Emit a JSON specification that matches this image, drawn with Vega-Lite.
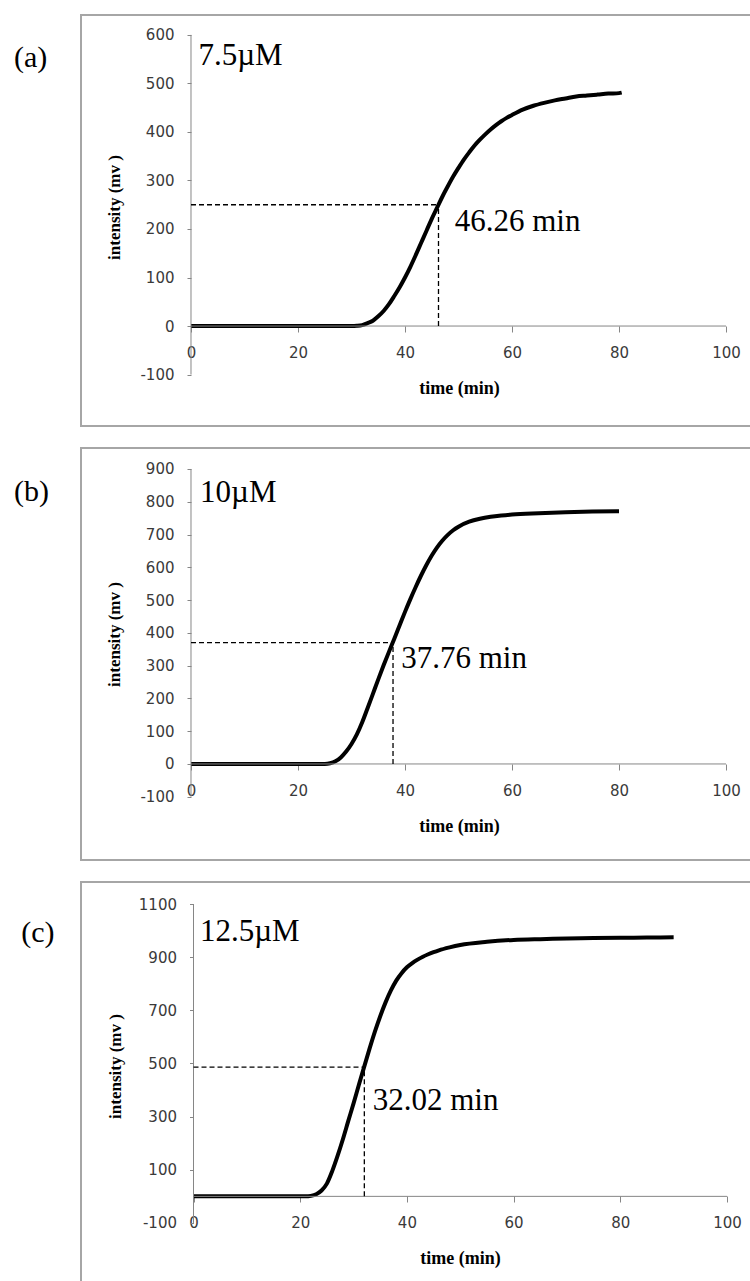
{
  "$schema": "https://vega.github.io/schema/vega-lite/v6.json",
  "padding": {"left": 12, "top": 14, "right": 0, "bottom": 0},
  "spacing": 20,
  "background": "white",
  "config": {
    "view": {"stroke": "#a6a6a6", "strokeWidth": 2},
    "axis": {
      "domain": false, "grid": false, "tickColor": "#868686", "tickWidth": 1,
      "labelFont": "DejaVu Sans", "labelFontSize": 15, "labelColor": "#3a3a3a",
      "labelFlush": false, "labelOverlap": false, "labelExpr": "'' + datum.value",
      "titleFont": "Liberation Serif", "titleFontWeight": "bold", "titleColor": "black"
    }
  },
  "datasets": {
    "one": [{}],
    "a": [
      {"t": 0, "v": 0}, {"t": 5, "v": 0}, {"t": 10, "v": 0}, {"t": 15, "v": 0}, {"t": 20, "v": 0}, {"t": 25, "v": 0}, {"t": 30, "v": 0},
      {"t": 31, "v": 0.5}, {"t": 32, "v": 2}, {"t": 33, "v": 6}, {"t": 34, "v": 11}, {"t": 35, "v": 20}, {"t": 36, "v": 31},
      {"t": 37, "v": 45}, {"t": 38, "v": 62}, {"t": 39, "v": 80}, {"t": 40, "v": 100}, {"t": 41, "v": 122}, {"t": 42, "v": 146},
      {"t": 43, "v": 171}, {"t": 44, "v": 196}, {"t": 45, "v": 221}, {"t": 46, "v": 244}, {"t": 47, "v": 267}, {"t": 48, "v": 288},
      {"t": 49, "v": 308}, {"t": 50, "v": 326}, {"t": 51, "v": 343}, {"t": 52, "v": 358}, {"t": 53, "v": 372}, {"t": 54, "v": 384},
      {"t": 55, "v": 395}, {"t": 56, "v": 405}, {"t": 57, "v": 414}, {"t": 58, "v": 422}, {"t": 59, "v": 429}, {"t": 60, "v": 435},
      {"t": 62, "v": 446}, {"t": 64, "v": 454}, {"t": 66, "v": 460}, {"t": 68, "v": 465}, {"t": 70, "v": 469}, {"t": 72, "v": 473},
      {"t": 74, "v": 475}, {"t": 76, "v": 477}, {"t": 78, "v": 479}, {"t": 80, "v": 480}, {"t": 80.5, "v": 481}
    ],
    "b": [
      {"t": 0, "v": 0}, {"t": 5, "v": 0}, {"t": 10, "v": 0}, {"t": 15, "v": 0}, {"t": 20, "v": 0}, {"t": 25, "v": 0},
      {"t": 26, "v": 2}, {"t": 27, "v": 8}, {"t": 28, "v": 20}, {"t": 29, "v": 38}, {"t": 30, "v": 61}, {"t": 31, "v": 90},
      {"t": 32, "v": 127}, {"t": 33, "v": 170}, {"t": 34, "v": 214}, {"t": 35, "v": 258}, {"t": 36, "v": 301}, {"t": 37, "v": 342},
      {"t": 38, "v": 382}, {"t": 39, "v": 423}, {"t": 40, "v": 464}, {"t": 41, "v": 503}, {"t": 42, "v": 540}, {"t": 43, "v": 575},
      {"t": 44, "v": 607}, {"t": 45, "v": 636}, {"t": 46, "v": 661}, {"t": 47, "v": 682}, {"t": 48, "v": 699}, {"t": 49, "v": 713},
      {"t": 50, "v": 724}, {"t": 52, "v": 739}, {"t": 54, "v": 748}, {"t": 56, "v": 754}, {"t": 58, "v": 758}, {"t": 60, "v": 761},
      {"t": 65, "v": 765}, {"t": 70, "v": 768}, {"t": 75, "v": 770}, {"t": 80, "v": 771}
    ],
    "c": [
      {"t": 0, "v": 0}, {"t": 5, "v": 0}, {"t": 10, "v": 0}, {"t": 15, "v": 0}, {"t": 20, "v": 0}, {"t": 21, "v": 0},
      {"t": 22, "v": 2}, {"t": 23, "v": 8}, {"t": 24, "v": 22}, {"t": 25, "v": 48}, {"t": 26, "v": 95}, {"t": 27, "v": 152},
      {"t": 28, "v": 215}, {"t": 29, "v": 283}, {"t": 30, "v": 350}, {"t": 31, "v": 420}, {"t": 32, "v": 488}, {"t": 33, "v": 556},
      {"t": 34, "v": 620}, {"t": 35, "v": 678}, {"t": 36, "v": 730}, {"t": 37, "v": 775}, {"t": 38, "v": 812}, {"t": 39, "v": 840},
      {"t": 40, "v": 862}, {"t": 41, "v": 878}, {"t": 42, "v": 891}, {"t": 43, "v": 902}, {"t": 44, "v": 911}, {"t": 45, "v": 919},
      {"t": 46, "v": 926}, {"t": 48, "v": 937}, {"t": 50, "v": 946}, {"t": 55, "v": 958}, {"t": 60, "v": 965}, {"t": 65, "v": 968},
      {"t": 70, "v": 970}, {"t": 75, "v": 972}, {"t": 80, "v": 973}, {"t": 85, "v": 974}, {"t": 90, "v": 975}
    ]
  },
  "vconcat": [
    {
      "width": 670, "height": 411,
      "layer": [
        {
          "data": {"name": "a"},
          "mark": {"type": "line", "color": "black", "strokeWidth": 4, "interpolate": "monotone"},
          "encoding": {
            "x": {"field": "t", "type": "quantitative", "title": "time (min)",
                  "scale": {"domain": [-20.56, 104.67], "nice": false, "zero": false},
                  "axis": {"orient": "bottom", "offset": -100, "values": [0, 20, 40, 60, 80, 100], "tickSize": 6, "labelPadding": 13, "titlePadding": 19, "titleFontSize": 18, "titleX": 378}},
            "y": {"field": "v", "type": "quantitative", "title": "intensity (mv )",
                  "scale": {"domain": [-206, 641], "nice": false, "zero": false},
                  "axis": {"orient": "left", "offset": -110, "values": [-100, 0, 100, 200, 300, 400, 500, 600], "tickSize": 4, "labelPadding": 13, "titlePadding": 16, "titleFontSize": 17, "titleY": 192}}
          }
        },
        {"data": {"name": "one"}, "mark": {"type": "rule", "color": "#868686", "strokeWidth": 1}, "encoding": {"x": {"datum": 0, "type": "quantitative"}, "y": {"datum": -100, "type": "quantitative"}, "y2": {"datum": 600}}},
        {"data": {"name": "one"}, "mark": {"type": "rule", "color": "#868686", "strokeWidth": 1}, "encoding": {"x": {"datum": 0, "type": "quantitative"}, "x2": {"datum": 100}, "y": {"datum": 0, "type": "quantitative"}}},
        {"data": {"name": "one"}, "mark": {"type": "rule", "color": "black", "strokeWidth": 1.3, "strokeDash": [5, 3]}, "encoding": {"x": {"datum": 0, "type": "quantitative"}, "x2": {"datum": 46.26}, "y": {"datum": 250, "type": "quantitative"}}},
        {"data": {"name": "one"}, "mark": {"type": "rule", "color": "black", "strokeWidth": 1.3, "strokeDash": [5, 3]}, "encoding": {"x": {"datum": 46.26, "type": "quantitative"}, "y": {"datum": 0, "type": "quantitative"}, "y2": {"datum": 250}}},
        {"data": {"name": "one"}, "mark": {"type": "text", "align": "left", "baseline": "middle", "font": "Liberation Serif", "fontSize": 31, "color": "black"}, "encoding": {"x": {"datum": 49.3, "type": "quantitative"}, "y": {"datum": 214, "type": "quantitative"}, "text": {"value": "46.26 min"}}},
        {"data": {"name": "one"}, "mark": {"type": "text", "align": "left", "baseline": "middle", "font": "Liberation Serif", "fontSize": 31, "color": "black"}, "encoding": {"x": {"datum": 1.4, "type": "quantitative"}, "y": {"datum": 557, "type": "quantitative"}, "text": {"value": "7.5µM"}}},
        {"data": {"name": "one"}, "mark": {"type": "text", "align": "left", "baseline": "middle", "font": "Liberation Serif", "fontSize": 30, "color": "black"}, "encoding": {"x": {"datum": -33.1, "type": "quantitative"}, "y": {"datum": 553, "type": "quantitative"}, "text": {"value": "(a)"}}}
      ]
    },
    {
      "width": 670, "height": 412,
      "layer": [
        {
          "data": {"name": "b"},
          "mark": {"type": "line", "color": "black", "strokeWidth": 4, "interpolate": "monotone"},
          "encoding": {
            "x": {"field": "t", "type": "quantitative", "title": "time (min)",
                  "scale": {"domain": [-20.56, 104.67], "nice": false, "zero": false},
                  "axis": {"orient": "bottom", "offset": -96, "values": [0, 20, 40, 60, 80, 100], "tickSize": 6, "labelPadding": 13, "titlePadding": 19, "titleFontSize": 18, "titleX": 378}},
            "y": {"field": "v", "type": "quantitative", "title": "intensity (mv )",
                  "scale": {"domain": [-293, 964], "nice": false, "zero": false},
                  "axis": {"orient": "left", "offset": -110, "values": [-100, 0, 100, 200, 300, 400, 500, 600, 700, 800, 900], "tickSize": 4, "labelPadding": 13, "titlePadding": 16, "titleFontSize": 17, "titleY": 186}}
          }
        },
        {"data": {"name": "one"}, "mark": {"type": "rule", "color": "#868686", "strokeWidth": 1}, "encoding": {"x": {"datum": 0, "type": "quantitative"}, "y": {"datum": -100, "type": "quantitative"}, "y2": {"datum": 900}}},
        {"data": {"name": "one"}, "mark": {"type": "rule", "color": "#868686", "strokeWidth": 1}, "encoding": {"x": {"datum": 0, "type": "quantitative"}, "x2": {"datum": 100}, "y": {"datum": 0, "type": "quantitative"}}},
        {"data": {"name": "one"}, "mark": {"type": "rule", "color": "black", "strokeWidth": 1.3, "strokeDash": [5, 3]}, "encoding": {"x": {"datum": 0, "type": "quantitative"}, "x2": {"datum": 37.76}, "y": {"datum": 370, "type": "quantitative"}}},
        {"data": {"name": "one"}, "mark": {"type": "rule", "color": "black", "strokeWidth": 1.3, "strokeDash": [5, 3]}, "encoding": {"x": {"datum": 37.76, "type": "quantitative"}, "y": {"datum": 0, "type": "quantitative"}, "y2": {"datum": 370}}},
        {"data": {"name": "one"}, "mark": {"type": "text", "align": "left", "baseline": "middle", "font": "Liberation Serif", "fontSize": 31, "color": "black"}, "encoding": {"x": {"datum": 39.3, "type": "quantitative"}, "y": {"datum": 319, "type": "quantitative"}, "text": {"value": "37.76 min"}}},
        {"data": {"name": "one"}, "mark": {"type": "text", "align": "left", "baseline": "middle", "font": "Liberation Serif", "fontSize": 31, "color": "black"}, "encoding": {"x": {"datum": 1.7, "type": "quantitative"}, "y": {"datum": 827, "type": "quantitative"}, "text": {"value": "10µM"}}},
        {"data": {"name": "one"}, "mark": {"type": "text", "align": "left", "baseline": "middle", "font": "Liberation Serif", "fontSize": 30, "color": "black"}, "encoding": {"x": {"datum": -33.1, "type": "quantitative"}, "y": {"datum": 830, "type": "quantitative"}, "text": {"value": "(b)"}}}
      ]
    },
    {
      "width": 670, "height": 401,
      "layer": [
        {
          "data": {"name": "c"},
          "mark": {"type": "line", "color": "black", "strokeWidth": 4, "interpolate": "monotone"},
          "encoding": {
            "x": {"field": "t", "type": "quantitative", "title": "time (min)",
                  "scale": {"domain": [-21.09, 104.5], "nice": false, "zero": false},
                  "axis": {"orient": "bottom", "offset": -87, "values": [0, 20, 40, 60, 80, 100], "tickSize": 6, "labelPadding": 13, "titlePadding": 19, "titleFontSize": 18, "titleX": 379}},
            "y": {"field": "v", "type": "quantitative", "title": "intensity (mv )",
                  "scale": {"domain": [-326, 1183], "nice": false, "zero": false},
                  "axis": {"orient": "left", "offset": -112.5, "values": [-100, 100, 300, 500, 700, 900, 1100], "tickSize": 4, "labelPadding": 13, "titlePadding": 14, "titleFontSize": 17, "titleY": 184}}
          }
        },
        {"data": {"name": "one"}, "mark": {"type": "rule", "color": "#868686", "strokeWidth": 1}, "encoding": {"x": {"datum": 0, "type": "quantitative"}, "y": {"datum": -100, "type": "quantitative"}, "y2": {"datum": 1100}}},
        {"data": {"name": "one"}, "mark": {"type": "rule", "color": "#868686", "strokeWidth": 1}, "encoding": {"x": {"datum": 0, "type": "quantitative"}, "x2": {"datum": 100}, "y": {"datum": 0, "type": "quantitative"}}},
        {"data": {"name": "one"}, "mark": {"type": "rule", "color": "black", "strokeWidth": 1.3, "strokeDash": [5, 3]}, "encoding": {"x": {"datum": 0, "type": "quantitative"}, "x2": {"datum": 32.02}, "y": {"datum": 486, "type": "quantitative"}}},
        {"data": {"name": "one"}, "mark": {"type": "rule", "color": "black", "strokeWidth": 1.3, "strokeDash": [5, 3]}, "encoding": {"x": {"datum": 32.02, "type": "quantitative"}, "y": {"datum": 0, "type": "quantitative"}, "y2": {"datum": 486}}},
        {"data": {"name": "one"}, "mark": {"type": "text", "align": "left", "baseline": "middle", "font": "Liberation Serif", "fontSize": 31, "color": "black"}, "encoding": {"x": {"datum": 33.6, "type": "quantitative"}, "y": {"datum": 359, "type": "quantitative"}, "text": {"value": "32.02 min"}}},
        {"data": {"name": "one"}, "mark": {"type": "text", "align": "left", "baseline": "middle", "font": "Liberation Serif", "fontSize": 31, "color": "black"}, "encoding": {"x": {"datum": 1.2, "type": "quantitative"}, "y": {"datum": 995, "type": "quantitative"}, "text": {"value": "12.5µM"}}},
        {"data": {"name": "one"}, "mark": {"type": "text", "align": "left", "baseline": "middle", "font": "Liberation Serif", "fontSize": 30, "color": "black"}, "encoding": {"x": {"datum": -32.3, "type": "quantitative"}, "y": {"datum": 991, "type": "quantitative"}, "text": {"value": "(c)"}}}
      ]
    }
  ]
}
